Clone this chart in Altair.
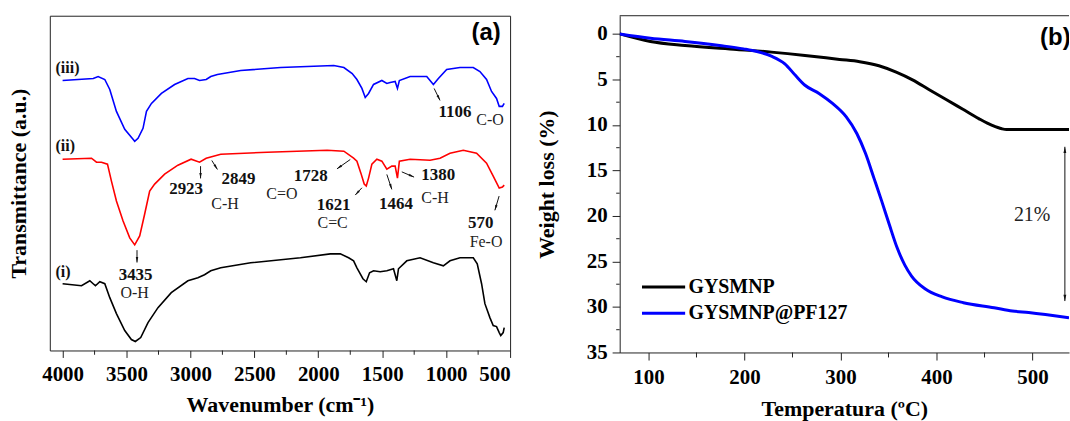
import math
import altair as alt
import pandas as pd

# ---------------- data: FTIR spectra (panel a) ----------------
black_wn = [4000, 3852, 3787, 3761, 3743, 3709, 3670, 3631, 3579, 3514, 3462, 3431, 3389, 3332, 3254, 3150,
            3020, 2942, 2890, 2841, 2763, 2529, 2140, 1906, 1828, 1763, 1724, 1698, 1685, 1651, 1625, 1599,
            1568, 1516, 1464, 1412, 1386, 1373, 1308, 1204, 1100, 1022, 970, 892, 788, 757, 723, 697, 658,
            632, 606, 585, 573, 554, 546]
black_T = [74, 72, 77, 74, 72, 76, 74, 60, 44, 27, 18, 16, 20, 35, 50, 65,
           77, 80, 83, 87, 90, 95, 100, 104, 104, 100, 97, 90, 87, 79, 76, 85,
           87, 86, 87, 89, 77, 89, 97, 100, 95, 92, 97, 100, 100, 94, 74, 54, 40,
           32, 31, 25, 22, 25, 30]

red_wn = [4000, 3774, 3735, 3696, 3649, 3618, 3579, 3527, 3475, 3436, 3397, 3358, 3319, 3280, 3202, 3098,
          2995, 2929, 2877, 2763, 2399, 1931, 1800, 1724, 1698, 1667, 1641, 1625, 1607, 1581, 1542, 1503,
          1464, 1425, 1399, 1381, 1366, 1282, 1126, 1048, 970, 866, 762, 684, 632, 585, 560, 546]
red_T = [199, 200, 196, 196, 194, 177, 157, 137, 120, 113, 122, 144, 167, 174, 184, 193,
         199, 196, 200, 204, 206, 208, 207, 200, 197, 185, 174, 172, 180, 194, 199, 197,
         189, 192, 192, 180, 197, 199, 198, 200, 205, 208, 205, 195, 182, 170, 171, 173]

blue_wn = [4000, 3760, 3722, 3670, 3631, 3579, 3514, 3449, 3436, 3410, 3371, 3344, 3305, 3227, 3124, 3020,
           2968, 2929, 2877, 2841, 2789, 2607, 2295, 1879, 1800, 1735, 1698, 1659, 1633, 1607, 1568, 1503,
           1464, 1438, 1399, 1381, 1366, 1282, 1152, 1100, 1061, 996, 892, 788, 736, 684, 645, 606, 585,
           560, 546]
blue_T = [278, 280, 282, 279, 269, 247, 229, 219, 217, 220, 230, 247, 255, 265, 274, 280,
          280, 278, 279, 282, 284, 288, 291, 293, 291, 285, 279, 270, 261, 265, 274, 278,
          275, 276, 277, 270, 278, 282, 282, 274, 280, 289, 291, 291, 287, 279, 267, 260, 252,
          252, 255]

roman_labels = ["(iii)", "(ii)", "(i)"]
roman_wn = [4055, 4055, 4055]
roman_T = [291, 212, 86]

num_labels = ["3435", "2923", "2849", "1728", "1621", "1464", "1380", "570", "1106"]
num_wn = [3429, 3034, 2624, 2059, 1880, 1393, 1062, 730, 931]
num_T = [82.8, 169.5, 179, 182, 153, 153.7, 182.8, 134.5, 246]

bond_labels = ["O-H", "C-H", "C=O", "C=C", "C-H", "Fe-O", "C-O"]
bond_wn = [3436, 2730, 2285, 1888, 1087, 688, 657]
bond_T = [64.5, 154.5, 164.5, 134.5, 160.3, 116, 238.3]

arrow_wn1 = [3418, 2921, 2833, 1750, 1659, 1464, 1347, 586, 1094]
arrow_T1 = [107.7, 192, 197.7, 198.7, 170.3, 183.7, 186.3, 162, 270]
arrow_wn2 = [3418, 2921, 2789, 1854, 1711, 1425, 1251, 619, 1048]
arrow_T2 = [95.3, 179.7, 188.7, 189.3, 163, 168.7, 181, 147.7, 258]

wn_major = [4000, 3500, 3000, 2500, 2000, 1500, 1000, 500]
wn_minor = [3750, 3250, 2750, 2250, 1750, 1250, 750]

# ---------------- data: TGA (panel b) ----------------
series_names = ["GYSMNP", "GYSMNP@PF127"]
series_colors = ["#000000", "#0000ff"]

temp_black = [70, 102, 138, 192, 228, 263, 299, 320, 340, 358, 375, 392, 410, 427, 444, 458, 468, 473, 538]
loss_black = [0, 0.83, 1.27, 1.71, 2.0, 2.36, 2.8, 3.05, 3.5, 4.2, 5.05, 6.1, 7.2, 8.25, 9.3, 10.05, 10.42, 10.5, 10.5]

temp_blue = [70, 102, 138, 174, 199, 213, 228, 242, 253, 263, 278, 292, 306, 317, 326, 335, 343, 351,
             359, 367, 374, 388, 406, 428, 460, 479, 496, 538]
loss_blue = [0, 0.47, 0.83, 1.27, 1.64, 1.93, 2.44, 3.28, 4.55, 5.64, 6.56, 7.66, 9.11, 10.94, 13.12, 15.9,
             18.4, 21.0, 23.5, 25.4, 26.6, 28.0, 28.9, 29.53, 30.08, 30.44, 30.62, 31.2]

temp_major = [100, 200, 300, 400, 500]
temp_minor = [150, 250, 350, 450]
loss_major = [0, 5, 10, 15, 20, 25, 30, 35]
loss_minor = [2.5, 7.5, 12.5, 17.5, 22.5, 27.5, 32.5]

gap_temp = [533.7]
gap_top = [12.4]
gap_bottom = [29.35]
gap_label = ["21%"]
gap_label_temp = [499.6]
gap_label_loss = [19.9]

# ---------------- layout / style ----------------
SERIF = "Liberation Serif, Times New Roman, serif"
SANS = "Liberation Sans, Arial, sans-serif"
LW, LH = 462, 336
RW, RH = 451, 338
L_DOM = [500, 4100]
T_DOM = [7, 343]
R_XDOM = [70, 538]
R_YDOM = [-2, 35]
FRAME = "#222222"
HEAD = "M0,0L0.45,2L-0.45,2Z"
LEG_X0, LEG_X1, LEG_TX, LEG_Y0, LEG_DY = 22.4, 65.7, 69, 272.3, 26.3

ax_left_x = alt.Axis(values=wn_major, format="d", title="Wavenumber (cm⁻¹)", grid=False, domain=False,
                     tickSize=7, tickColor=FRAME, labelPadding=6, titlePadding=10,
                     labelFont=SERIF, labelFontSize=21, labelFontWeight="bold", labelColor="black",
                     titleFont=SERIF, titleFontSize=22, titleFontWeight="bold", titleColor="black")
ax_left_y = alt.Axis(title="Transmittance (a.u.)", labels=False, ticks=False, domain=False, grid=False,
                     titlePadding=19, titleFont=SERIF, titleFontSize=22, titleFontWeight="bold",
                     titleColor="black")
sc_left_x = alt.Scale(domain=L_DOM, reverse=True, nice=False, zero=False)
sc_left_y = alt.Scale(domain=T_DOM, nice=False, zero=False)


def LX(f):
    return alt.X(f, type="quantitative", scale=sc_left_x, axis=ax_left_x)


def LY(f):
    return alt.Y(f, type="quantitative", scale=sc_left_y, axis=ax_left_y)


def head_angles(x1, y1, x2, y2, xpx, ypx, xrev):
    out = []
    for a, b, c, d in zip(x1, y1, x2, y2):
        dx = (c - a) * xpx * (-1 if xrev else 1)
        dy = -(d - b) * ypx
        out.append(math.degrees(math.atan2(dx, -dy)) % 360)
    return out


spec_rows = []
for name, col, wn, tt in [("i", "#000000", black_wn, black_T), ("ii", "#ff0000", red_wn, red_T),
                          ("iii", "#0000ff", blue_wn, blue_T)]:
    for k, (w, t) in enumerate(zip(wn, tt)):
        spec_rows.append({"s": name, "c": col, "wn": w, "T": t, "idx": k})
spec_df = pd.DataFrame(spec_rows)

spectra = alt.Chart(spec_df).mark_line(strokeWidth=1.6, clip=True).encode(
    x=LX("wn"), y=LY("T"), color=alt.Color("c:N", scale=None), detail="s:N", order="idx:Q")

arr_df = pd.DataFrame({"wn": arrow_wn1, "T": arrow_T1, "wn2": arrow_wn2, "T2": arrow_T2,
                       "ang": head_angles(arrow_wn1, arrow_T1, arrow_wn2, arrow_T2,
                                          LW / (L_DOM[1] - L_DOM[0]), LH / (T_DOM[1] - T_DOM[0]), True)})
arr_lines = alt.Chart(arr_df).mark_rule(color="#111", strokeWidth=1).encode(
    x=LX("wn"), y=LY("T"), x2="wn2:Q", y2="T2:Q")
arr_heads = alt.Chart(arr_df).mark_point(shape=HEAD, filled=True, color="#111", size=30, opacity=1).encode(
    x=LX("wn2"), y=LY("T2"), angle=alt.Angle("ang:Q", scale=None))

num_df = pd.DataFrame({"wn": num_wn, "T": num_T, "t": num_labels})
nums = alt.Chart(num_df).mark_text(font=SERIF, fontSize=17, fontWeight="bold", color="#111",
                                   align="center", baseline="middle").encode(x=LX("wn"), y=LY("T"), text="t:N")
bond_df = pd.DataFrame({"wn": bond_wn, "T": bond_T, "t": bond_labels})
bonds = alt.Chart(bond_df).mark_text(font=SERIF, fontSize=16, color="#222",
                                     align="center", baseline="middle").encode(x=LX("wn"), y=LY("T"), text="t:N")
rom_df = pd.DataFrame({"wn": roman_wn, "T": roman_T, "t": roman_labels})
romans = alt.Chart(rom_df).mark_text(font=SERIF, fontSize=16, fontWeight="bold", color="#111",
                                     align="left", baseline="middle").encode(x=LX("wn"), y=LY("T"), text="t:N")

lminor = alt.Chart(pd.DataFrame({"wn": wn_minor})).mark_rule(color=FRAME, strokeWidth=1).encode(
    x=LX("wn"), y=alt.value(LH), y2=alt.value(LH + 4.3))

tag_a = alt.Chart(pd.DataFrame({"t": ["(a)"]})).mark_text(
    font=SANS, fontSize=24, fontWeight="bold", color="black", align="center", baseline="middle").encode(
    x=alt.value(438), y=alt.value(17), text="t:N")

left = alt.layer(spectra, arr_lines, arr_heads, nums, bonds, romans, lminor, tag_a).properties(
    width=LW, height=LH, view=alt.ViewBackground(stroke=FRAME, strokeWidth=1))

# ---------------- right panel ----------------
ax_r_x = alt.Axis(values=temp_major, format="d", title="Temperatura (ºC)", grid=False, domain=True,
                  domainColor=FRAME, tickSize=7.6, tickColor=FRAME, labelPadding=6.5, titlePadding=11,
                  labelFont=SERIF, labelFontSize=21, labelFontWeight="bold", labelColor="black",
                  titleFont=SERIF, titleFontSize=22, titleFontWeight="bold", titleColor="black")
ax_r_y = alt.Axis(values=loss_major, format="d", title="Weight loss (%)", grid=False, domain=True,
                  domainColor=FRAME, tickSize=7.6, tickColor=FRAME, labelPadding=5, titlePadding=28,
                  labelFont=SERIF, labelFontSize=21, labelFontWeight="bold", labelColor="black",
                  titleFont=SERIF, titleFontSize=22, titleFontWeight="bold", titleColor="black")
sc_r_x = alt.Scale(domain=R_XDOM, nice=False, zero=False)
sc_r_y = alt.Scale(domain=R_YDOM, reverse=True, nice=False, zero=False)


def RX(f):
    return alt.X(f, type="quantitative", scale=sc_r_x, axis=ax_r_x)


def RY(f):
    return alt.Y(f, type="quantitative", scale=sc_r_y, axis=ax_r_y)


tga_rows = []
for name, tt, ll in [(series_names[0], temp_black, loss_black), (series_names[1], temp_blue, loss_blue)]:
    for a, b in zip(tt, ll):
        tga_rows.append({"series": name, "temp": a, "loss": b})
tga_df = pd.DataFrame(tga_rows)

tga = alt.Chart(tga_df).mark_line(strokeWidth=3, interpolate="monotone", clip=True).encode(
    x=RX("temp"), y=RY("loss"),
    color=alt.Color("series:N", scale=alt.Scale(domain=series_names, range=series_colors), legend=None))

# legend drawn from the series names / colours
legend_layers = []
for i, (nm, col) in enumerate(zip(series_names, series_colors)):
    one = pd.DataFrame({"t": [nm]})
    legend_layers.append(alt.Chart(one).mark_rule(color=col, strokeWidth=3).encode(
        x=alt.value(LEG_X0), x2=alt.value(LEG_X1), y=alt.value(LEG_Y0 + i * LEG_DY)))
    legend_layers.append(alt.Chart(one).mark_text(
        font=SERIF, fontSize=20, fontWeight="bold", color="black", align="left", baseline="middle").encode(
        x=alt.value(LEG_TX), y=alt.value(LEG_Y0 + i * LEG_DY), text="t:N"))

rminor_x = alt.Chart(pd.DataFrame({"temp": temp_minor})).mark_rule(color=FRAME).encode(
    x=RX("temp"), y=alt.value(RH), y2=alt.value(RH + 5))
rminor_y = alt.Chart(pd.DataFrame({"loss": loss_minor})).mark_rule(color=FRAME).encode(
    y=RY("loss"), x=alt.value(-3.5), x2=alt.value(0))
rtop = alt.Chart(pd.DataFrame({"k": [0]})).mark_rule(color=FRAME, strokeWidth=1).encode(
    x=alt.value(0), x2=alt.value(RW), y=alt.value(0))

gap_df = pd.DataFrame({"temp": gap_temp, "loss": gap_top, "loss2": gap_bottom})
gap_line = alt.Chart(gap_df).mark_rule(color="#111", strokeWidth=1).encode(
    x=RX("temp"), y=RY("loss"), y2="loss2:Q")
gap_heads_df = pd.DataFrame({"temp": gap_temp * 2, "loss": gap_top + gap_bottom, "ang": [0, 180]})
gap_heads = alt.Chart(gap_heads_df).mark_point(shape=HEAD, filled=True, color="#111", size=40, opacity=1).encode(
    x=RX("temp"), y=RY("loss"), angle=alt.Angle("ang:Q", scale=None))
gap_text = alt.Chart(pd.DataFrame({"temp": gap_label_temp, "loss": gap_label_loss, "t": gap_label})).mark_text(
    font=SERIF, fontSize=20, color="#222", align="center", baseline="middle").encode(
    x=RX("temp"), y=RY("loss"), text="t:N")

tag_b = alt.Chart(pd.DataFrame({"t": ["(b)"]})).mark_text(
    font=SANS, fontSize=24, fontWeight="bold", color="black", align="left", baseline="middle", clip=True).encode(
    x=alt.value(422), y=alt.value(22), text="t:N")

right = alt.layer(tga, rminor_x, rminor_y, rtop, gap_line, gap_heads, gap_text, tag_b, *legend_layers).properties(
    width=RW, height=RH)

chart = alt.hconcat(left, right, spacing=23).properties(
    padding={"left": 7, "top": 14, "right": 0, "bottom": 0}
).configure_view(stroke="transparent").configure_axis(
    labelFont=SERIF, titleFont=SERIF
).configure_text(font=SERIF)

chart.save("out.html", embed_options={"renderer": "svg", "actions": False})
